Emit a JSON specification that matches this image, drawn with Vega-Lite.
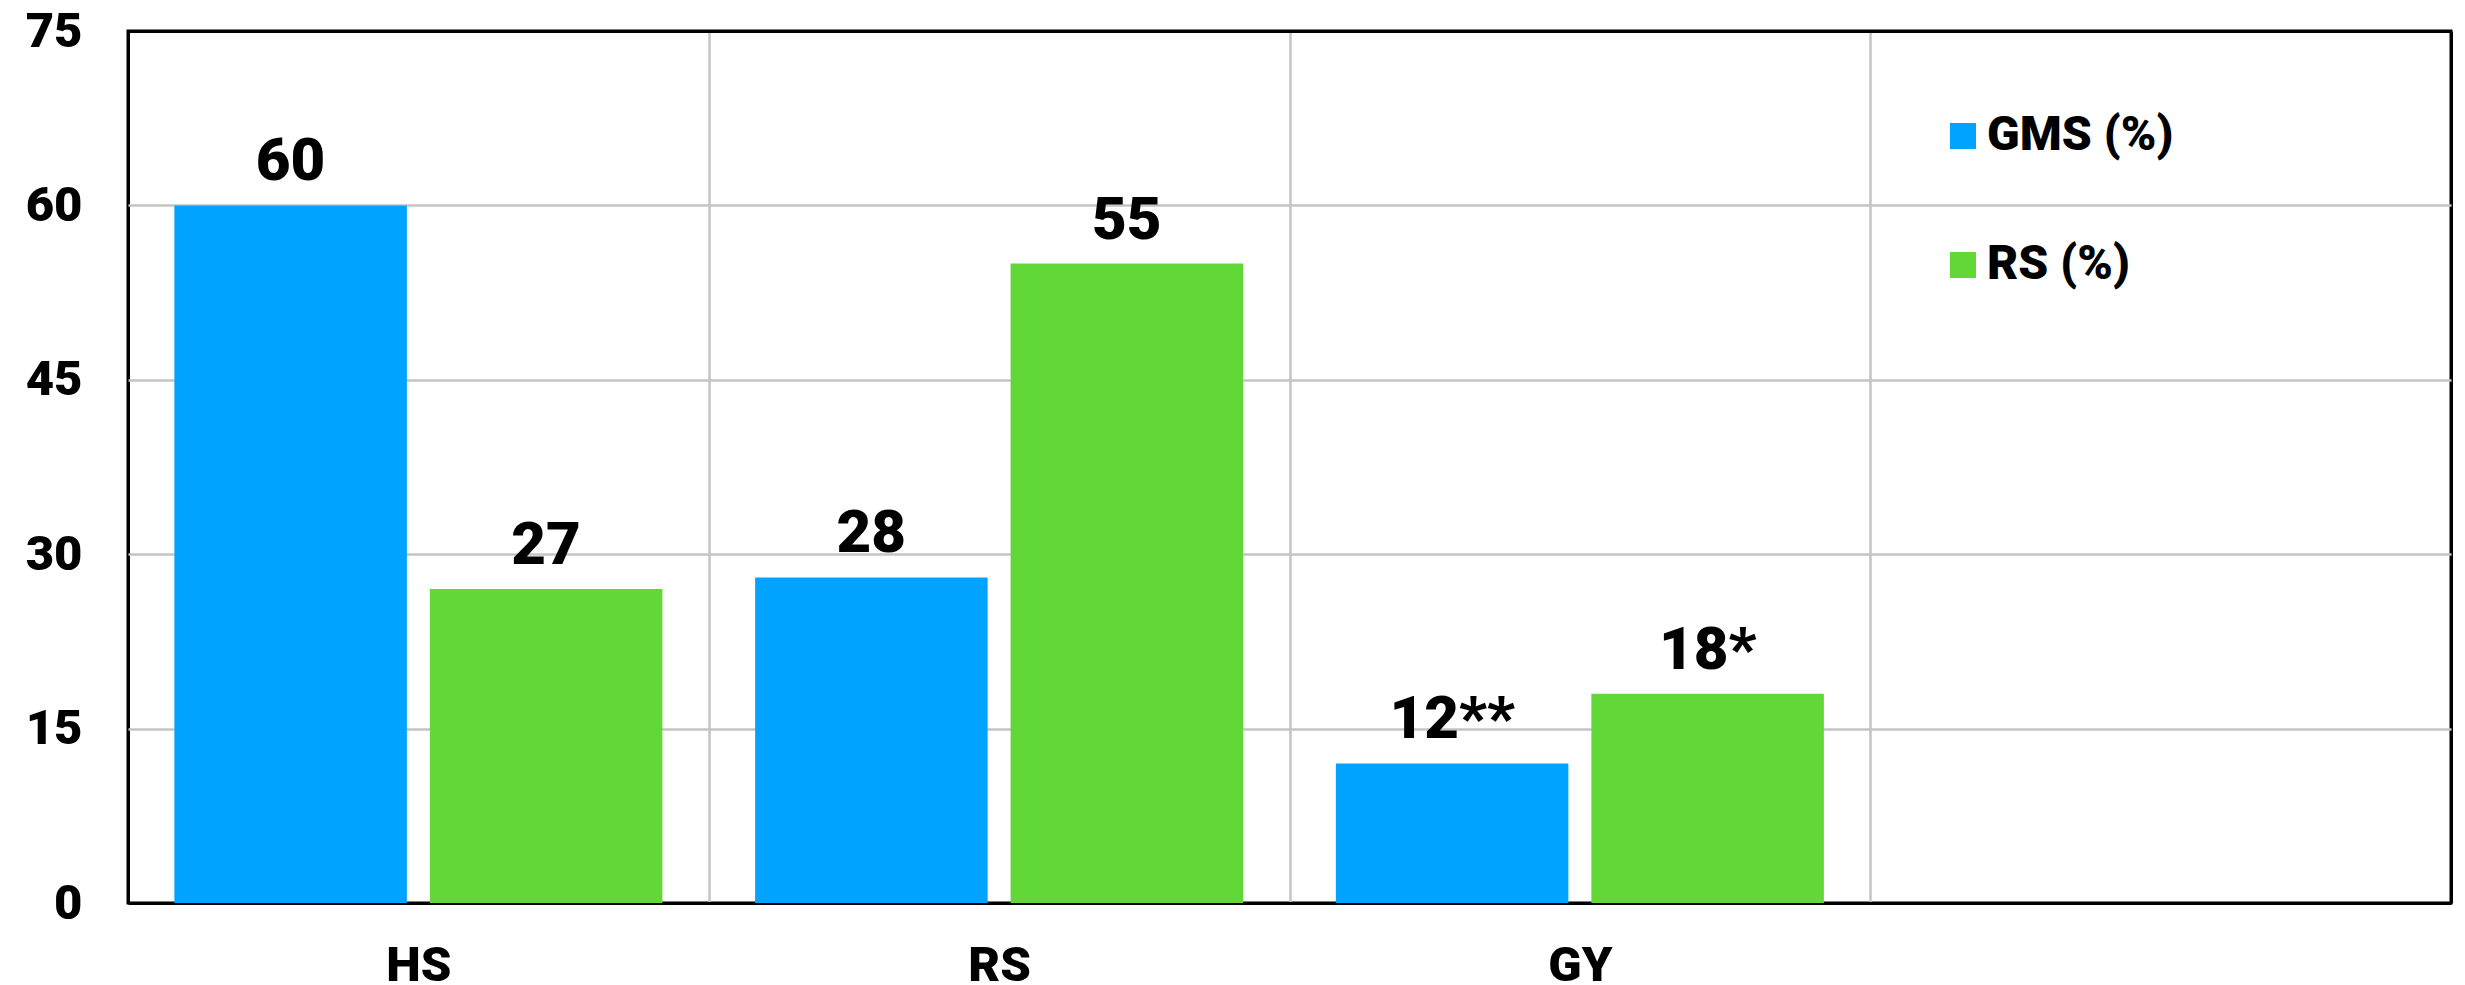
{
  "$schema": "https://vega.github.io/schema/vega-lite/v6.json",
  "width": 2323,
  "height": 872,
  "autosize": {"type": "none"},
  "padding": {"left": 128, "top": 31, "right": 14, "bottom": 82},
  "background": "white",
  "config": {"view": {"stroke": "black", "strokeWidth": 3}, "font": "Roboto"},
  "data": {
    "values": [
      {"cat": "HS", "series": "GMS (%)", "value": 60, "label": "60"},
      {"cat": "HS", "series": "RS (%)", "value": 27, "label": "27"},
      {"cat": "RS", "series": "GMS (%)", "value": 28, "label": "28"},
      {"cat": "RS", "series": "RS (%)", "value": 55, "label": "55"},
      {"cat": "GY", "series": "GMS (%)", "value": 12, "label": "12**"},
      {"cat": "GY", "series": "RS (%)", "value": 18, "label": "18*"}
    ]
  },
  "encoding": {
    "x": {
      "field": "cat",
      "type": "nominal",
      "sort": null,
      "scale": {"domain": ["HS", "RS", "GY", "_"], "paddingInner": 0, "paddingOuter": 0},
      "axis": {
        "title": null,
        "labelExpr": "datum.value == '_' ? '' : datum.value",
        "labelAngle": 0,
        "labelFontSize": 49,
        "labelFontWeight": 900,
        "labelColor": "black",
        "labelPadding": 38,
        "ticks": false,
        "domain": false,
        "grid": true,
        "tickBand": "extent",
        "gridColor": {"condition": {"test": "datum.value == '_' || datum.extra", "value": "black"}, "value": "#c4c4c4"},
        "gridWidth": {"condition": {"test": "datum.value == '_' || datum.extra", "value": 3}, "value": 2.5}
      }
    },
    "xOffset": {"field": "series", "scale": {"paddingInner": 0.09, "paddingOuter": 0.1815}},
    "y": {
      "field": "value",
      "type": "quantitative",
      "scale": {"domain": [0, 75]},
      "axis": {
        "title": null,
        "values": [0, 15, 30, 45, 60, 75],
        "labelFontSize": 49,
        "labelFontWeight": 900,
        "labelColor": "black",
        "labelPadding": 46,
        "ticks": false,
        "domain": false,
        "grid": true,
        "gridColor": {"condition": {"test": "datum.value == 0 || datum.value == 75", "value": "black"}, "value": "#c4c4c4"},
        "gridWidth": {"condition": {"test": "datum.value == 0 || datum.value == 75", "value": 3}, "value": 2.5}
      }
    }
  },
  "layer": [
    {
      "mark": {"type": "bar"},
      "encoding": {
        "color": {
          "field": "series",
          "type": "nominal",
          "scale": {"domain": ["GMS (%)", "RS (%)"], "range": ["#00A3FF", "#62D838"]},
          "legend": {
            "orient": "none",
            "legendX": 1811,
            "legendY": 81,
            "padding": 0,
            "title": null,
            "symbolType": "square",
            "symbolSize": 676,
            "symbolStrokeWidth": 0,
            "symbolOpacity": 1,
            "labelFontSize": 48,
            "labelFontWeight": 900,
            "labelOffset": 0,
            "labelLimit": 500,
            "rowPadding": 81,
            "labelColor": "black"
          }
        }
      }
    },
    {
      "mark": {"type": "text", "baseline": "alphabetic", "dy": -25, "fontSize": 60, "fontWeight": 900, "color": "black"},
      "encoding": {"text": {"field": "label"}}
    }
  ]
}
